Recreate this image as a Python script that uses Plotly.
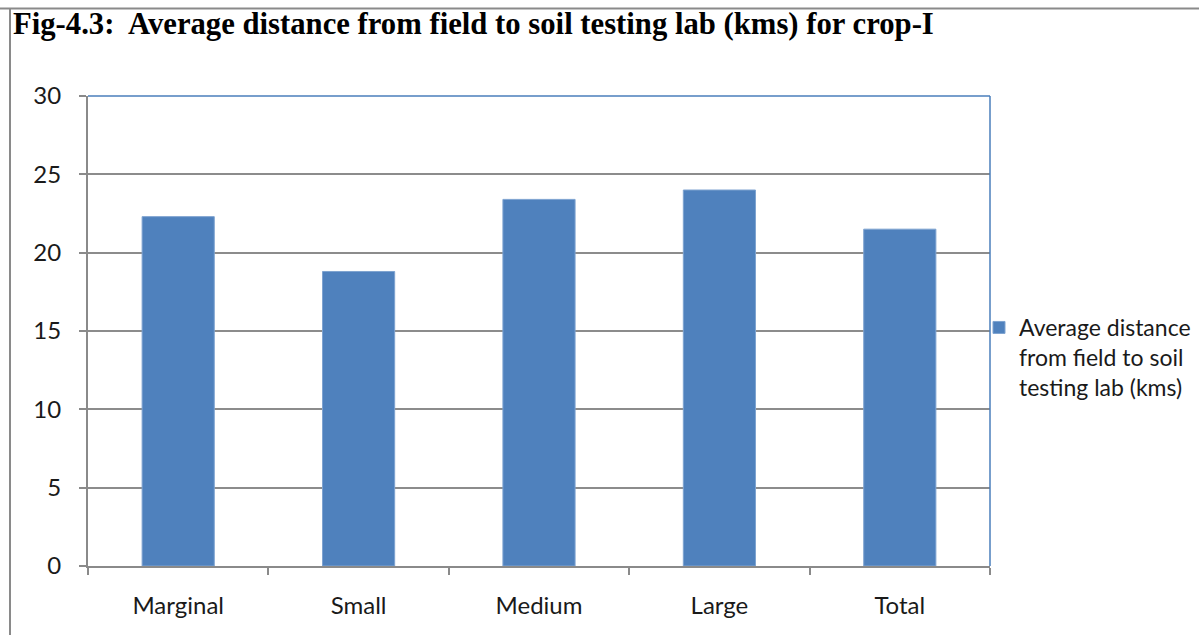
import plotly.graph_objects as go

categories = ["Marginal", "Small", "Medium", "Large", "Total"]
values = [22.3, 18.8, 23.4, 24.0, 21.5]
series_name = "Average distance<br>from field to soil<br>testing lab (kms)"
title_text = "Fig-4.3:&nbsp; Average distance from field to soil testing lab (kms) for crop-I"

W, H = 1199, 635
L, R, T, B = 88, 990, 96, 566

fig = go.Figure()
fig.add_trace(go.Bar(
    x=categories, y=values, name=series_name,
    marker=dict(color="#4f81bd", line=dict(color="#7ea3d0", width=1)),
    width=0.4, showlegend=True,
))

def px(x):
    return (x - L) / (R - L)

def py(y):
    return (B - y) / (B - T)

shapes = [
    # outer frame (top and left)
    dict(type="line", xref="paper", yref="paper", x0=px(0), x1=px(W), y0=py(8.5), y1=py(8.5),
         line=dict(color="#8a8a8a", width=2)),
    dict(type="line", xref="paper", yref="paper", x0=px(10), x1=px(10), y0=py(8), y1=py(H),
         line=dict(color="#8a8a8a", width=2)),
    # plot area border (top, right) blue
    dict(type="line", xref="paper", yref="paper", x0=0, x1=1, y0=1, y1=1,
         line=dict(color="#4a7ebb", width=1.5)),
    dict(type="line", xref="paper", yref="paper", x0=1, x1=1, y0=0, y1=1,
         line=dict(color="#4a7ebb", width=1.5)),
]

fig.update_layout(
    width=W, height=H,
    margin=dict(l=L, r=W - R, t=T, b=H - B, autoexpand=False),
    paper_bgcolor="white", plot_bgcolor="white",
    font=dict(family="Lato, Open Sans, sans-serif", color="#1a1a1a", size=24),
    shapes=shapes,
    annotations=[dict(
        text="<b>" + title_text + "</b>", xref="paper", yref="paper",
        x=px(11), y=py(24), xanchor="left", yanchor="middle", showarrow=False,
        font=dict(family="Liberation Serif, Times New Roman, serif", size=30.7, color="black"),
    )],
    legend=dict(
        x=px(979), y=py(306), xanchor="left", yanchor="top",
        font=dict(size=23, family="Lato, Open Sans, sans-serif", color="#1a1a1a"),
        valign="top", itemwidth=30, tracegroupgap=0,
        bgcolor="rgba(0,0,0,0)",
    ),
    bargap=0.6,
)

fig.update_xaxes(
    type="category", showline=True, linecolor="#8a8a8a", linewidth=2,
    ticks="outside", tickson="boundaries", ticklen=7, tickcolor="#8a8a8a", tickwidth=1.5,
    showgrid=False, tickfont=dict(size=24), ticklabelstandoff=17,
)
fig.update_yaxes(
    range=[0, 30], dtick=5, showline=True, linecolor="#8a8a8a", linewidth=2,
    ticks="outside", ticklen=7, tickcolor="#8a8a8a", tickwidth=1.5,
    showgrid=True, gridcolor="#8c8c8c", gridwidth=1.5, zeroline=False,
    tickfont=dict(size=24), ticklabelstandoff=13,
)

fig.write_html("out.html", config={"displayModeBar": False},
               post_script="document.body.style.margin='0';document.body.style.overflow='hidden';")
